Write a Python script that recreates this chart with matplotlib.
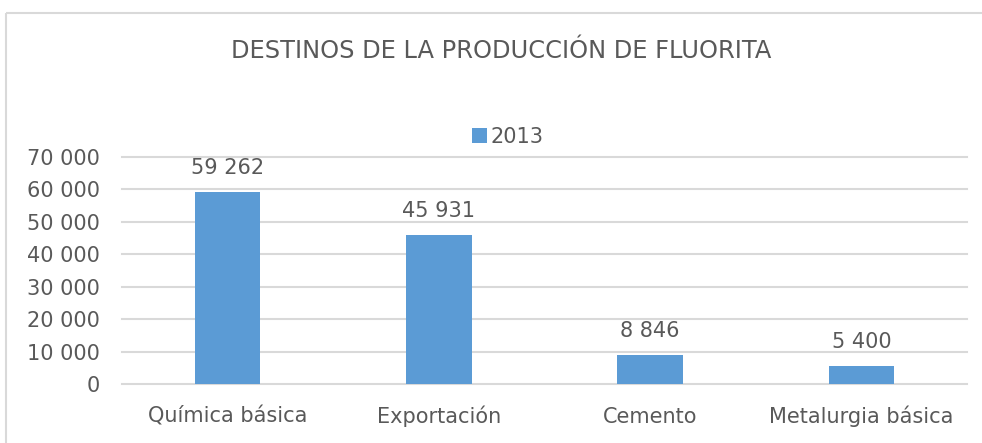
import numpy as np
import matplotlib.pyplot as plt
from matplotlib.lines import Line2D

# data
categorias = ['Química básica', 'Exportación', 'Cemento', 'Metalurgia básica']
valores = [59262, 45931, 8846, 5400]
serie = '2013'
titulo = 'DESTINOS DE LA PRODUCCIÓN DE FLUORITA'
y_ticks = [0, 10000, 20000, 30000, 40000, 50000, 60000, 70000]

azul = '#5B9BD5'
gris_texto = '#595959'
gris_linea = '#D9D9D9'

plt.rcParams['font.family'] = ['DejaVu Sans']

W, H = 982, 443
fig = plt.figure(figsize=(W / 100, H / 100), dpi=100)

# plot area in pixel terms
left, right, top, bottom = 122, 967, 157, 384
ax = fig.add_axes([left / W, (H - bottom) / H, (right - left) / W, (bottom - top) / H])

x = np.arange(len(categorias))
bars = ax.bar(x, valores, width=0.31, color=azul, label=serie, zorder=3)

ax.set_xlim(-0.5, len(categorias) - 0.5)
ax.set_ylim(0, 70000)
ax.set_yticks(y_ticks)
ax.set_yticklabels([f'{v:,}'.replace(',', ' ') for v in y_ticks])
ax.set_xticks(x)
ax.set_xticklabels(categorias)
ax.tick_params(axis='both', length=0, labelsize=15, colors=gris_texto)
ax.tick_params(axis='y', pad=16)
ax.tick_params(axis='x', pad=28)
for lbl in ax.get_xticklabels():
    lbl.set_va('baseline')
ax.grid(axis='y', color=gris_linea, lw=1.5, zorder=0)
for gl in ax.get_ygridlines():
    gl.set_clip_on(False)
ax.set_axisbelow(True)
for s in ax.spines.values():
    s.set_visible(False)

# data labels above bars
for xi, v in zip(x, valores):
    ax.annotate(f'{v:,}'.replace(',', ' '), (xi, v), xytext=(0, 13), textcoords='offset points',
                ha='center', va='baseline', fontsize=15, color=gris_texto)

fig.text(0.5 * (230 + 773) / W, 1 - 51 / H, titulo, ha='center', va='center',
         fontsize=17.4, color=gris_texto)

fig.legend(handles=[bars], labels=[serie], loc='center', bbox_to_anchor=(508 / W, 1 - 137 / H),
           frameon=False, fontsize=15, labelcolor=gris_texto, handlelength=0.7, handleheight=0.7,
           handletextpad=0.2, borderpad=0)

# chart border: only the top and left edges are inside the picture
bx, by = 5.5 / W, 1 - 12.5 / H
fig.add_artist(Line2D([bx, 1.02], [by, by], transform=fig.transFigure, color=gris_linea, lw=1.5,
                      solid_capstyle='butt'))
fig.add_artist(Line2D([bx, bx], [-0.02, by], transform=fig.transFigure, color=gris_linea, lw=1.5,
                      solid_capstyle='butt'))

fig.savefig('out.png', dpi=100)
